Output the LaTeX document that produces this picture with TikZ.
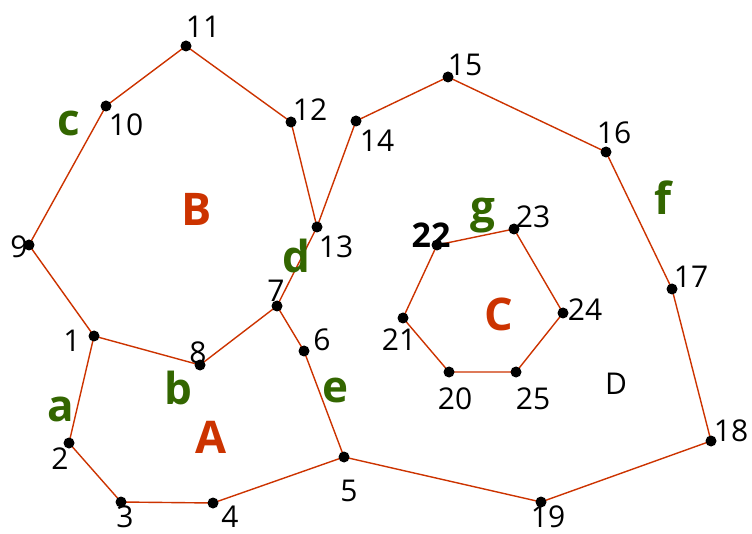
\documentclass[tikz,border=0pt]{standalone}
\usepackage{fontspec}
\setmainfont{Open Sans}
\usetikzlibrary{positioning}
\definecolor{edgered}{RGB}{204,51,0}
\definecolor{facegreen}{RGB}{51,102,0}

\begin{document}
\begin{tikzpicture}[x=1pt, y=-1pt,
    dot/.style={circle, fill=black, inner sep=0pt, minimum size=11pt},
    num/.style={font=\fontsize{30}{32}\selectfont, inner sep=0pt},
    edgelbl/.style={font=\fontsize{44}{46}\selectfont\bfseries, text=facegreen, inner sep=0pt},
    facelbl/.style={font=\fontsize{45}{47}\selectfont\bfseries, text=edgered, inner sep=0pt},
    edge/.style={draw=edgered, line width=1.4pt, line join=round}]
    \useasboundingbox (0,0) rectangle (752,534);

    % vertices
    \foreach \n/\x/\y in {1/94/336, 2/69/443, 3/121/502, 4/213/503, 5/344/457,
                          6/304/351, 7/277/306, 8/200/365, 9/29/245, 10/106/106,
                          11/186/46, 12/291/122, 13/317/227, 14/356/121, 15/448/77,
                          16/606/152, 17/672/289, 18/711/441, 19/541/502, 20/449/372,
                          21/403/318, 22/437/245, 23/514/229, 24/563/313, 25/516/372} {
        \coordinate (p\n) at (\x,\y);
    }

    % boundary edges
    \draw[edge] (p1) -- (p2) -- (p3) -- (p4) -- (p5) -- (p6) -- (p7) -- (p8) -- (p1);
    \draw[edge] (p1) -- (p9) -- (p10) -- (p11) -- (p12) -- (p13) -- (p7);
    \draw[edge] (p13) -- (p14) -- (p15) -- (p16) -- (p17) -- (p18) -- (p19) -- (p5);
    \draw[edge] (p20) -- (p21) -- (p22) -- (p23) -- (p24) -- (p25) -- (p20);

    \foreach \n in {1,...,25} {
        \node[dot] (v\n) at (p\n) {};
    }

    % vertex numbers
    \foreach \n/\x/\y in {1/72/341, 2/60/459, 3/125/517, 4/230/517, 5/349/491,
                          6/322/340, 7/276/291, 8/198/353, 9/19/247, 10/126/125,
                          11/203/27, 12/310/110, 13/336/247, 14/377/141, 15/465/65,
                          16/614/133, 17/691/277, 18/731/431, 19/548/517, 20/455/399,
                          21/399/340, 23/533/217, 24/585/310, 25/533/399} {
        \node[num] (l\n) at (\x,\y) {\n};
    }
    \node[num, font=\fontsize{34}{36}\selectfont\bfseries] (l22) at (431,235) {22};
    \node[num] (faceD) at (616,384) {D};

    % edge names
    \node[edgelbl] (ea) at (61,409) {a};
    \node[edgelbl] (eb) at (178,388) {b};
    \node[edgelbl] (ec) at (69,123) {c};
    \node[edgelbl] (ed) at (296,256) {d};
    \node[edgelbl] (ee) at (335,390) {e};
    \node[edgelbl] (ef) at (663,198) {f};
    \node[edgelbl] (eg) at (483,216) {g};

    % face names
    \node[facelbl] (faceA) at (211,437) {A};
    \node[facelbl] (faceB) at (197,209) {B};
    \node[facelbl] (faceC) at (499,314) {C};
\end{tikzpicture}
\end{document}
